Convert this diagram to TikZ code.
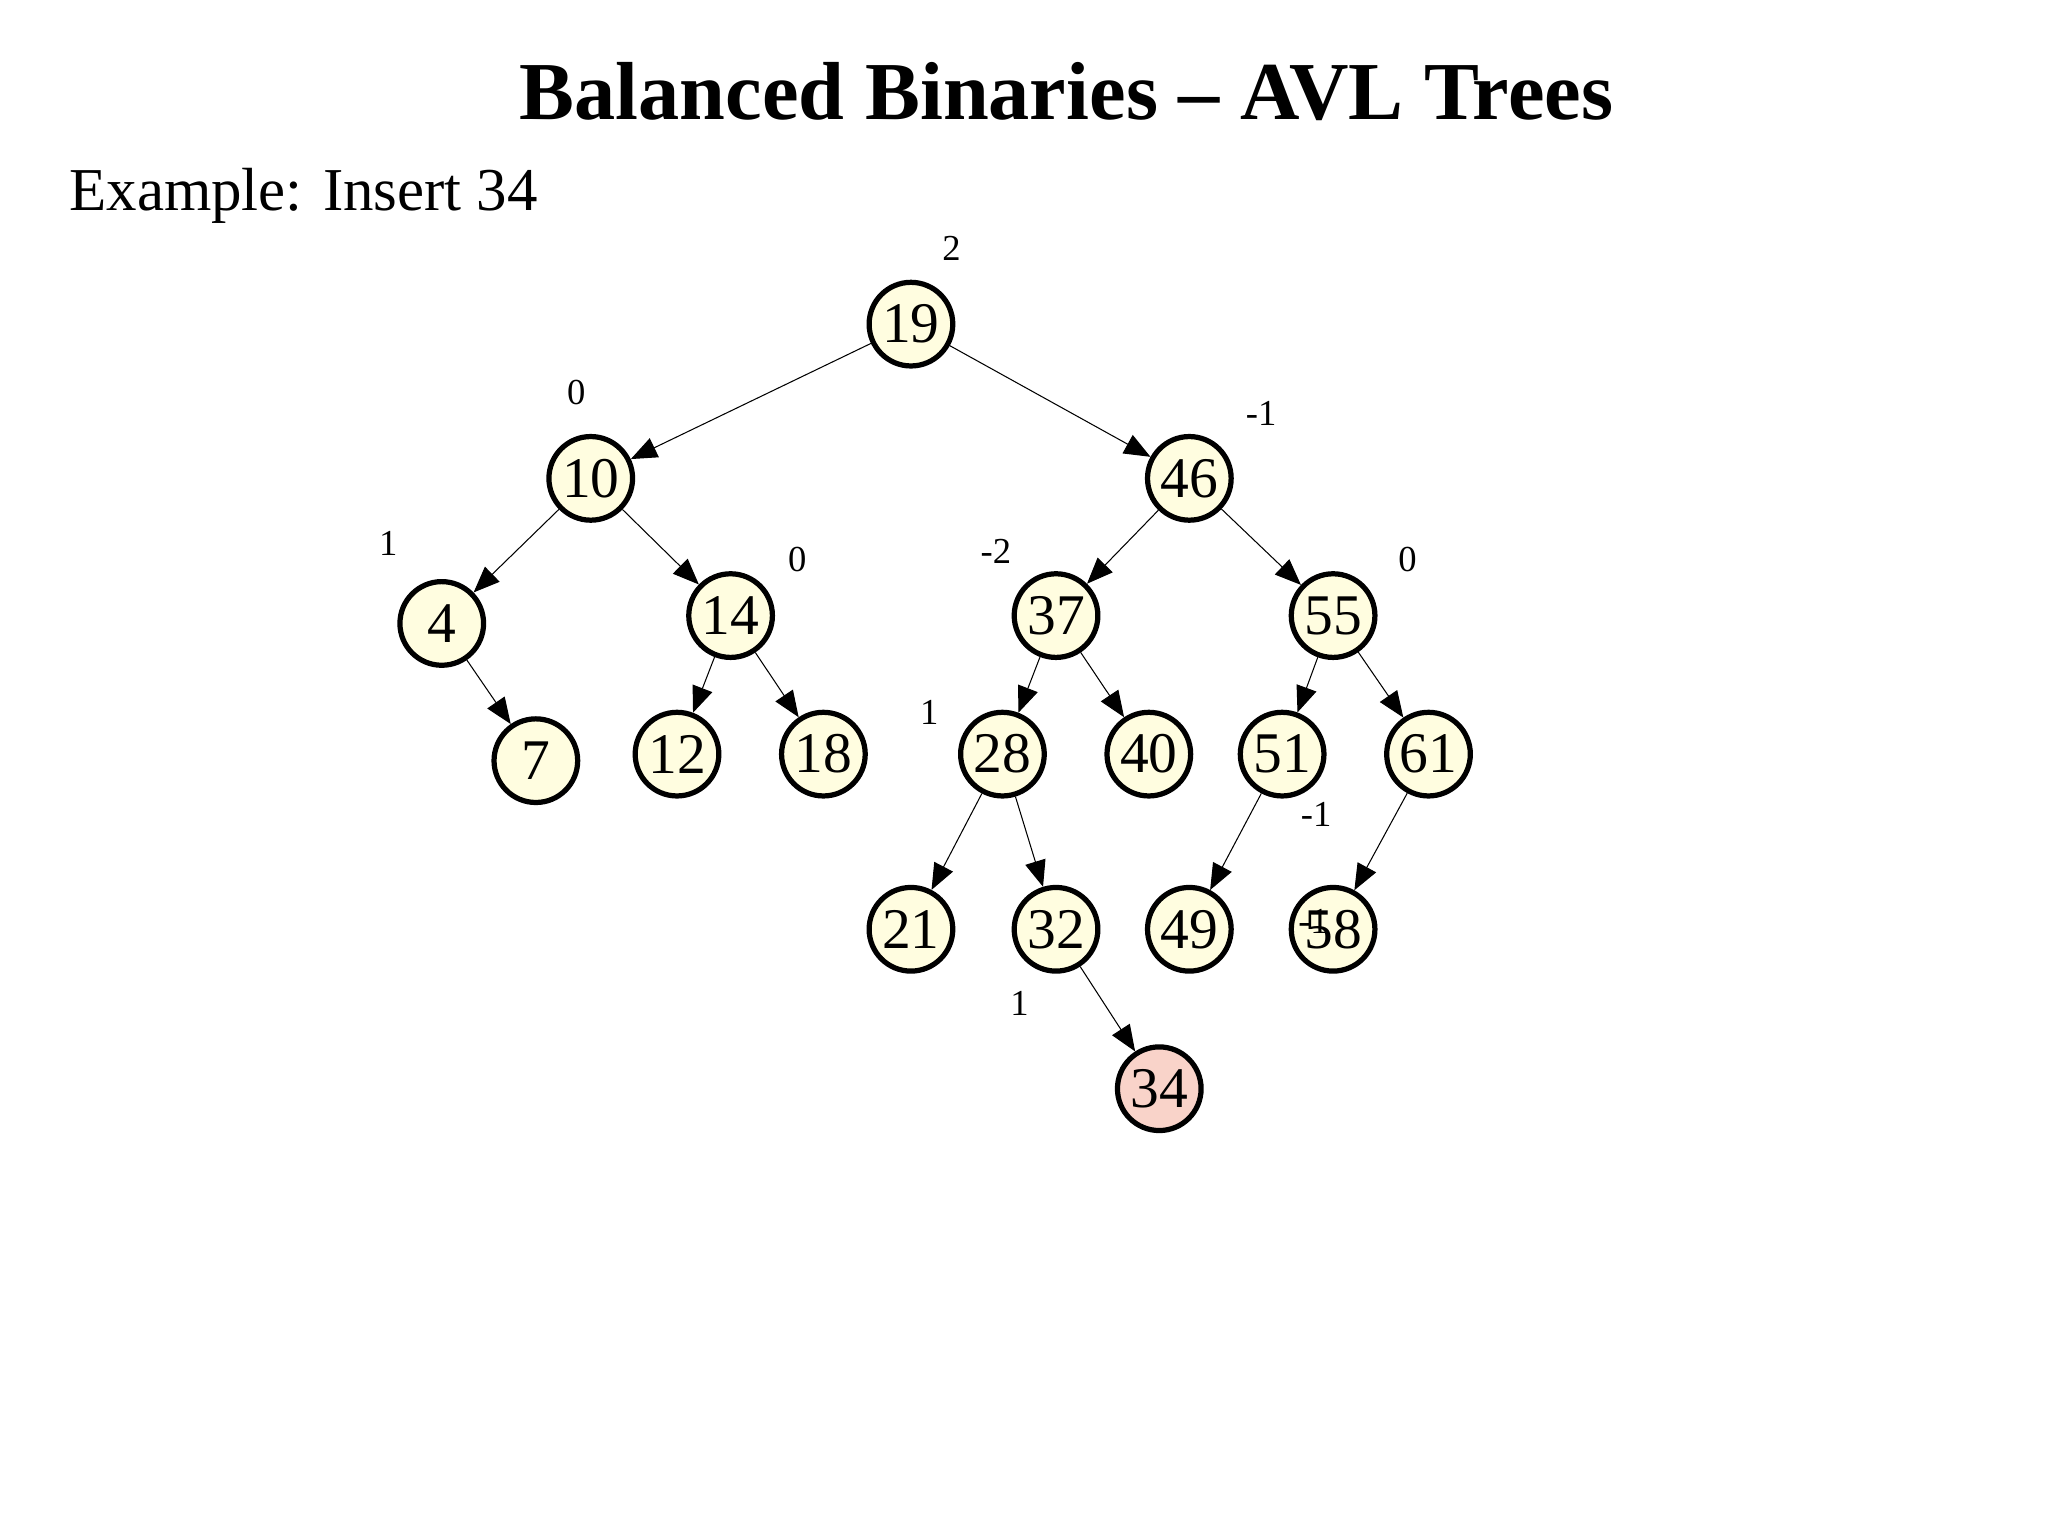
\documentclass[tikz,border=0pt]{standalone}
\usepackage{fontspec}
\setmainfont{Liberation Serif}
\usetikzlibrary{arrows.meta}
\definecolor{nodefill}{HTML}{FFFDE0}
\definecolor{newfill}{HTML}{F9D3C9}
\begin{document}
\begin{tikzpicture}[x=0.5pt,y=-0.5pt,
  tn/.style={circle,draw,line width=2pt,fill=nodefill,minimum size=32pt,inner sep=0pt,font=\fontsize{22}{22}\selectfont},
  bal/.style={font=\fontsize{14}{14}\selectfont},
  edge/.style={draw,line width=0.4pt,-{Triangle[length=10pt,width=8pt]}}]
\path[use as bounding box,fill=white] (0,0) rectangle (1567,1175);
\node[font=\bfseries\fontsize{31.5}{31.5}\selectfont] (title) at (816,70) {Balanced Binaries – AVL Trees};
\node[anchor=west,font=\fontsize{23.3}{23.3}\selectfont] (ex) at (46,150) {Example: Insert 34};
\foreach \n/\x/\y in {19/697/248,10/452/366,46/910/366,4/338/477,14/559/471,37/808/471,55/1020/471,7/410/582,12/518/577,18/630/577,28/767/577,40/879/577,51/981/577,61/1093/577,21/697/711,32/808/711,49/910/711,58/1020/711}
  \node[tn] (n\n) at (\x,\y) {\n};
\node[tn,fill=newfill] (n34) at (887,833) {34};
\foreach \a/\b in {19/10,19/46,10/4,10/14,4/7,14/12,14/18,46/37,46/55,37/28,37/40,55/51,55/61,28/21,28/32,32/34,51/49,61/58}
  \draw[edge] (n\a) -- (n\b);
\node[bal] (b19) at (728,190) {2};
\node[bal] (b10) at (441,300) {0};
\node[bal] (b46) at (965,316) {-1};
\node[bal] (b4) at (297,416) {1};
\node[bal] (b14) at (610,428) {0};
\node[bal] (b37) at (762,422) {-2};
\node[bal] (b55) at (1077,428) {0};
\node[bal] (b28) at (711,545) {1};
\node[bal] (b51) at (1007,623) {-1};
\node[bal] (b58) at (1005,705) {-1};
\node[bal] (b32) at (780,768) {1};
\end{tikzpicture}
\end{document}
